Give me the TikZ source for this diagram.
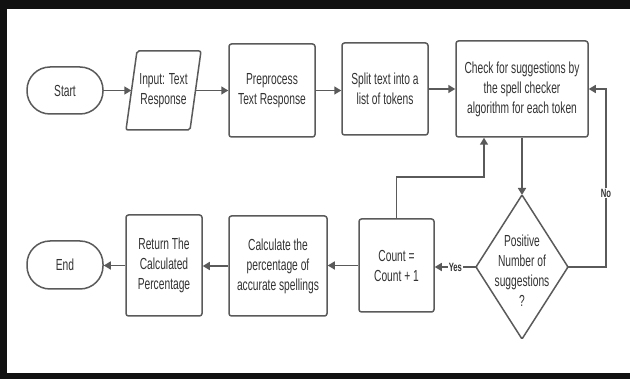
\documentclass[tikz,border=0pt]{standalone}
\usepackage{fontspec}
\setmainfont[FakeStretch=0.64]{Liberation Sans}
\usetikzlibrary{arrows.meta,calc}
\definecolor{ln}{HTML}{5A5A5A}
\definecolor{tx}{HTML}{333333}
\definecolor{frame}{HTML}{111111}
\begin{document}
\begin{tikzpicture}[x=1pt,y=-1pt,
 box/.style={draw=ln, line width=1.5pt, rounded corners=2.5pt, align=center, text=tx, font=\fontsize{16}{20}\selectfont, inner sep=0pt},
 term/.style={box, rounded corners=23pt},
 plain/.style={align=center, text=tx, font=\fontsize{16}{20}\selectfont, inner sep=0pt},
 shapeline/.style={draw=ln, line width=1.5pt},
 arr/.style={draw=ln, line width=1.5pt, -{Triangle[length=7pt,width=8pt]}},
 lab/.style={fill=white, text=tx, font=\fontsize{12}{14}\bfseries\selectfont, inner sep=1pt}
]
\fill[white] (0,0) rectangle (630,379);
\useasboundingbox (0,0) rectangle (630,379);
\fill[frame] (0,0) rectangle (630,9);
\fill[frame] (0,0) rectangle (7,379);
\fill[frame] (0,373) rectangle (630,379);

\node[term, minimum width=76pt, minimum height=47pt] (start) at (65,90.5) {Start};
\node[plain, minimum width=64pt, minimum height=79pt] (in) at (163.5,90.5) {Input: Text\\Response};
\draw[shapeline, rounded corners=2pt] ($(in)+(-26.5,-39.5)$) -- ($(in)+(37.5,-39.5)$) -- ($(in)+(26.5,39.5)$) -- ($(in)+(-37.5,39.5)$) -- cycle;
\node[box, minimum width=86pt, minimum height=93pt] (pre) at (272,90.5) {Preprocess\\Text Response};
\node[box, minimum width=86pt, minimum height=92pt] (split) at (385,89) {Split text into a\\list of tokens};
\node[box, minimum width=132pt, minimum height=96pt] (check) at (522,89) {Check for suggestions by\\the spell checker\\algorithm for each token};

\node[plain] (dia) at (522,271) {Positive\\Number of\\suggestions\\?};
\coordinate (dT) at (522,195);
\coordinate (dB) at (522,339);
\coordinate (dL) at (476,267);
\coordinate (dR) at (568,267);
\draw[shapeline, rounded corners=1pt] (dT) -- (dR) -- (dB) -- (dL) -- cycle;

\node[box, minimum width=75pt, minimum height=93pt] (count) at (396.5,265.5) {Count =\\Count + 1};
\node[box, minimum width=98pt, minimum height=100pt] (calc) at (278,266) {Calculate the\\percentage of\\accurate spellings};
\node[box, minimum width=76pt, minimum height=101pt] (ret) at (164,265.5) {Return The\\Calculated\\Percentage};
\node[term, minimum width=76pt, minimum height=48pt] (end) at (65,265) {End};

\draw[arr] (start.east) -- (in.west);
\draw[arr] (in.east) -- (pre.west);
\draw[arr] (pre.east) -- (pre.east -| split.west);
\draw[arr] (split.east) -- (split.east -| check.west);
\draw[arr] (check.south) -- (dT);
\coordinate (noA) at (606,267);
\coordinate (noB) at (606,89);
\draw[arr] (dR) -- (noA) -- (noB) -- (check.east);
\node[lab] (no) at (606,193) {No};
\draw[arr] (dL) -- node[lab] (yes) {Yes} (dL -| count.east);
\coordinate (lp) at (484,177);
\draw[arr] (count.north) |- (lp) -- (lp |- check.south);
\draw[arr] (count.west) -- (count.west -| calc.east);
\draw[arr] (calc.west) -- (calc.west -| ret.east);
\draw[arr] (ret.west) -- (ret.west -| end.east);
\end{tikzpicture}
\end{document}
